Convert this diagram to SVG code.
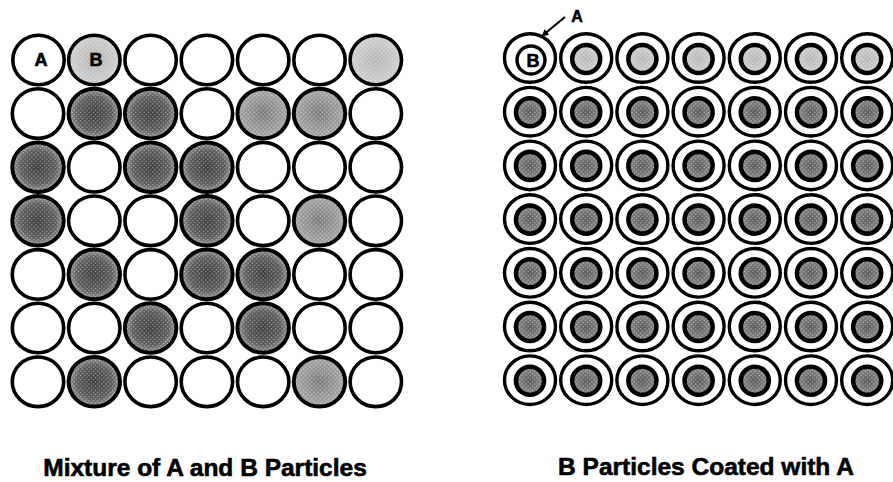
<svg xmlns="http://www.w3.org/2000/svg" width="893" height="482" viewBox="0 0 893 482">
<style>
.o{fill:#fff;stroke:#000;stroke-width:3.6}
.s{stroke:#000;stroke-width:4}
.lt{fill:url(#gL)}
.md{fill:url(#gM)}
.dk{fill:url(#gD)}
.tx{fill:url(#dots);stroke:none}
.ring{fill:#fff;stroke:#000;stroke-width:3.4}
.core1{fill:url(#gL);stroke:#000;stroke-width:4.6}
.core2{fill:url(#gC);stroke:#000;stroke-width:4.6}
.lbl{font-family:"Liberation Sans",Arial,sans-serif;font-weight:bold;fill:#000;stroke:#000;stroke-width:0.6}
.cap{font-size:24.5px;text-anchor:middle}
.let{font-size:18px;text-anchor:middle}
</style>
<defs>
<radialGradient id="gL"><stop offset="0" stop-color="#b4b4b4"/><stop offset="1" stop-color="#cfcfcf"/></radialGradient>
<radialGradient id="gM"><stop offset="0" stop-color="#7a7a7a"/><stop offset="1" stop-color="#a6a6a6"/></radialGradient>
<radialGradient id="gD"><stop offset="0" stop-color="#3c3c3c"/><stop offset="0.7" stop-color="#5c5c5c"/><stop offset="1" stop-color="#9a9a9a"/></radialGradient>
<radialGradient id="gC"><stop offset="0" stop-color="#555"/><stop offset="1" stop-color="#8a8a8a"/></radialGradient>
<pattern id="dots" width="3" height="3" patternUnits="userSpaceOnUse" patternTransform="rotate(45)"><circle cx="1.5" cy="1.5" r="0.7" fill="#fff" fill-opacity="0.55"/></pattern>
<marker id="ah" viewBox="0 0 10 10" refX="9" refY="5" markerWidth="9" markerHeight="7" markerUnits="userSpaceOnUse" orient="auto"><path d="M0,0 L10,5 L0,10 z" fill="#000"/></marker>
</defs>

<g id="mixture">
<!-- row 1 -->
<g id="m-1-1"><ellipse class="o" cx="38.5" cy="60" rx="25.7" ry="24.8"/><text class="lbl let" x="41" y="66">A</text></g>
<g id="m-1-2"><ellipse class="o lt" cx="94.3" cy="60" rx="25.7" ry="24.8"/><ellipse class="tx" cx="94.3" cy="60" rx="24" ry="23"/><text class="lbl let" x="96" y="66">B</text></g>
<g id="m-1-3"><ellipse class="o" cx="150.6" cy="60" rx="25.7" ry="24.8"/></g>
<g id="m-1-4"><ellipse class="o" cx="206.9" cy="60" rx="25.7" ry="24.8"/></g>
<g id="m-1-5"><ellipse class="o" cx="263.2" cy="60" rx="25.7" ry="24.8"/></g>
<g id="m-1-6"><ellipse class="o" cx="319.5" cy="60" rx="25.7" ry="24.8"/></g>
<g id="m-1-7"><ellipse class="o lt" cx="375.8" cy="60" rx="25.7" ry="24.8"/><ellipse class="tx" cx="375.8" cy="60" rx="24" ry="23"/></g>
<!-- row 2 -->
<g id="m-2-1"><ellipse class="o" cx="38" cy="113.6" rx="25.7" ry="24.8"/></g>
<g id="m-2-2"><ellipse class="o s dk" cx="94.3" cy="113.6" rx="25.7" ry="24.8"/><ellipse class="tx" cx="94.3" cy="113.6" rx="24" ry="23"/></g>
<g id="m-2-3"><ellipse class="o s dk" cx="150.6" cy="113.6" rx="25.7" ry="24.8"/><ellipse class="tx" cx="150.6" cy="113.6" rx="24" ry="23"/></g>
<g id="m-2-4"><ellipse class="o" cx="206.9" cy="113.6" rx="25.7" ry="24.8"/></g>
<g id="m-2-5"><ellipse class="o s md" cx="263.2" cy="113.6" rx="25.7" ry="24.8"/><ellipse class="tx" cx="263.2" cy="113.6" rx="24" ry="23"/></g>
<g id="m-2-6"><ellipse class="o s md" cx="319.5" cy="113.6" rx="25.7" ry="24.8"/><ellipse class="tx" cx="319.5" cy="113.6" rx="24" ry="23"/></g>
<g id="m-2-7"><ellipse class="o" cx="375.8" cy="113.6" rx="25.7" ry="24.8"/></g>
<!-- row 3 -->
<g id="m-3-1"><ellipse class="o s dk" cx="38" cy="167.2" rx="25.7" ry="24.8"/><ellipse class="tx" cx="38" cy="167.2" rx="24" ry="23"/></g>
<g id="m-3-2"><ellipse class="o" cx="94.3" cy="167.2" rx="25.7" ry="24.8"/></g>
<g id="m-3-3"><ellipse class="o s dk" cx="150.6" cy="167.2" rx="25.7" ry="24.8"/><ellipse class="tx" cx="150.6" cy="167.2" rx="24" ry="23"/></g>
<g id="m-3-4"><ellipse class="o s dk" cx="206.9" cy="167.2" rx="25.7" ry="24.8"/><ellipse class="tx" cx="206.9" cy="167.2" rx="24" ry="23"/></g>
<g id="m-3-5"><ellipse class="o" cx="263.2" cy="167.2" rx="25.7" ry="24.8"/></g>
<g id="m-3-6"><ellipse class="o" cx="319.5" cy="167.2" rx="25.7" ry="24.8"/></g>
<g id="m-3-7"><ellipse class="o" cx="375.8" cy="167.2" rx="25.7" ry="24.8"/></g>
<!-- row 4 -->
<g id="m-4-1"><ellipse class="o s dk" cx="38" cy="220.8" rx="25.7" ry="24.8"/><ellipse class="tx" cx="38" cy="220.8" rx="24" ry="23"/></g>
<g id="m-4-2"><ellipse class="o" cx="94.3" cy="220.8" rx="25.7" ry="24.8"/></g>
<g id="m-4-3"><ellipse class="o" cx="150.6" cy="220.8" rx="25.7" ry="24.8"/></g>
<g id="m-4-4"><ellipse class="o s dk" cx="206.9" cy="220.8" rx="25.7" ry="24.8"/><ellipse class="tx" cx="206.9" cy="220.8" rx="24" ry="23"/></g>
<g id="m-4-5"><ellipse class="o" cx="263.2" cy="220.8" rx="25.7" ry="24.8"/></g>
<g id="m-4-6"><ellipse class="o s md" cx="319.5" cy="220.8" rx="25.7" ry="24.8"/><ellipse class="tx" cx="319.5" cy="220.8" rx="24" ry="23"/></g>
<g id="m-4-7"><ellipse class="o" cx="375.8" cy="220.8" rx="25.7" ry="24.8"/></g>
<!-- row 5 -->
<g id="m-5-1"><ellipse class="o" cx="38" cy="274.4" rx="25.7" ry="24.8"/></g>
<g id="m-5-2"><ellipse class="o s dk" cx="94.3" cy="274.4" rx="25.7" ry="24.8"/><ellipse class="tx" cx="94.3" cy="274.4" rx="24" ry="23"/></g>
<g id="m-5-3"><ellipse class="o" cx="150.6" cy="274.4" rx="25.7" ry="24.8"/></g>
<g id="m-5-4"><ellipse class="o s dk" cx="206.9" cy="274.4" rx="25.7" ry="24.8"/><ellipse class="tx" cx="206.9" cy="274.4" rx="24" ry="23"/></g>
<g id="m-5-5"><ellipse class="o s dk" cx="263.2" cy="274.4" rx="25.7" ry="24.8"/><ellipse class="tx" cx="263.2" cy="274.4" rx="24" ry="23"/></g>
<g id="m-5-6"><ellipse class="o" cx="319.5" cy="274.4" rx="25.7" ry="24.8"/></g>
<g id="m-5-7"><ellipse class="o" cx="375.8" cy="274.4" rx="25.7" ry="24.8"/></g>
<!-- row 6 -->
<g id="m-6-1"><ellipse class="o" cx="38" cy="328" rx="25.7" ry="24.8"/></g>
<g id="m-6-2"><ellipse class="o" cx="94.3" cy="328" rx="25.7" ry="24.8"/></g>
<g id="m-6-3"><ellipse class="o s dk" cx="150.6" cy="328" rx="25.7" ry="24.8"/><ellipse class="tx" cx="150.6" cy="328" rx="24" ry="23"/></g>
<g id="m-6-4"><ellipse class="o" cx="206.9" cy="328" rx="25.7" ry="24.8"/></g>
<g id="m-6-5"><ellipse class="o s dk" cx="263.2" cy="328" rx="25.7" ry="24.8"/><ellipse class="tx" cx="263.2" cy="328" rx="24" ry="23"/></g>
<g id="m-6-6"><ellipse class="o" cx="319.5" cy="328" rx="25.7" ry="24.8"/></g>
<g id="m-6-7"><ellipse class="o" cx="375.8" cy="328" rx="25.7" ry="24.8"/></g>
<!-- row 7 -->
<g id="m-7-1"><ellipse class="o" cx="38" cy="381.8" rx="25.7" ry="24.8"/></g>
<g id="m-7-2"><ellipse class="o s dk" cx="94.3" cy="381.8" rx="25.7" ry="24.8"/><ellipse class="tx" cx="94.3" cy="381.8" rx="24" ry="23"/></g>
<g id="m-7-3"><ellipse class="o" cx="150.6" cy="381.8" rx="25.7" ry="24.8"/></g>
<g id="m-7-4"><ellipse class="o" cx="206.9" cy="381.8" rx="25.7" ry="24.8"/></g>
<g id="m-7-5"><ellipse class="o" cx="263.2" cy="381.8" rx="25.7" ry="24.8"/></g>
<g id="m-7-6"><ellipse class="o s md" cx="319.5" cy="381.8" rx="25.7" ry="24.8"/><ellipse class="tx" cx="319.5" cy="381.8" rx="24" ry="23"/></g>
<g id="m-7-7"><ellipse class="o" cx="375.8" cy="381.8" rx="25.7" ry="24.8"/></g>
</g>

<g id="coated">
<!-- row 1 -->
<g id="c-1-1"><ellipse class="ring" cx="530" cy="58" rx="25.5" ry="24.3"/><circle cx="531" cy="60" r="14" fill="#fff" stroke="#000" stroke-width="3.4"/><text class="lbl let" x="533" y="67">B</text></g>
<g id="c-1-2"><ellipse class="ring" cx="586.2" cy="58" rx="25.5" ry="24.3"/><circle class="core1" cx="586.2" cy="59" r="14"/><circle class="tx" cx="586.2" cy="59" r="12"/></g>
<g id="c-1-3"><ellipse class="ring" cx="642.4" cy="58" rx="25.5" ry="24.3"/><circle class="core1" cx="642.4" cy="59" r="14"/><circle class="tx" cx="642.4" cy="59" r="12"/></g>
<g id="c-1-4"><ellipse class="ring" cx="698.6" cy="58" rx="25.5" ry="24.3"/><circle class="core1" cx="698.6" cy="59" r="14"/><circle class="tx" cx="698.6" cy="59" r="12"/></g>
<g id="c-1-5"><ellipse class="ring" cx="754.8" cy="58" rx="25.5" ry="24.3"/><circle class="core1" cx="754.8" cy="59" r="14"/><circle class="tx" cx="754.8" cy="59" r="12"/></g>
<g id="c-1-6"><ellipse class="ring" cx="811" cy="58" rx="25.5" ry="24.3"/><circle class="core1" cx="811" cy="59" r="14"/><circle class="tx" cx="811" cy="59" r="12"/></g>
<g id="c-1-7"><ellipse class="ring" cx="867.2" cy="58" rx="25.5" ry="24.3"/><circle class="core1" cx="867.2" cy="59" r="14"/><circle class="tx" cx="867.2" cy="59" r="12"/></g>
<!-- rows 2-7 -->
<g id="c-2-1"><ellipse class="ring" cx="530" cy="111.7" rx="25.5" ry="24.3"/><circle class="core2" cx="530" cy="112.2" r="14"/><circle class="tx" cx="530" cy="112.2" r="12"/></g>
<g id="c-2-2"><ellipse class="ring" cx="586.2" cy="111.7" rx="25.5" ry="24.3"/><circle class="core2" cx="586.2" cy="112.2" r="14"/><circle class="tx" cx="586.2" cy="112.2" r="12"/></g>
<g id="c-2-3"><ellipse class="ring" cx="642.4" cy="111.7" rx="25.5" ry="24.3"/><circle class="core2" cx="642.4" cy="112.2" r="14"/><circle class="tx" cx="642.4" cy="112.2" r="12"/></g>
<g id="c-2-4"><ellipse class="ring" cx="698.6" cy="111.7" rx="25.5" ry="24.3"/><circle class="core2" cx="698.6" cy="112.2" r="14"/><circle class="tx" cx="698.6" cy="112.2" r="12"/></g>
<g id="c-2-5"><ellipse class="ring" cx="754.8" cy="111.7" rx="25.5" ry="24.3"/><circle class="core2" cx="754.8" cy="112.2" r="14"/><circle class="tx" cx="754.8" cy="112.2" r="12"/></g>
<g id="c-2-6"><ellipse class="ring" cx="811" cy="111.7" rx="25.5" ry="24.3"/><circle class="core2" cx="811" cy="112.2" r="14"/><circle class="tx" cx="811" cy="112.2" r="12"/></g>
<g id="c-2-7"><ellipse class="ring" cx="867.2" cy="111.7" rx="25.5" ry="24.3"/><circle class="core2" cx="867.2" cy="112.2" r="14"/><circle class="tx" cx="867.2" cy="112.2" r="12"/></g>
<g id="c-3-1"><ellipse class="ring" cx="530" cy="165.4" rx="25.5" ry="24.3"/><circle class="core2" cx="530" cy="165.9" r="14"/><circle class="tx" cx="530" cy="165.9" r="12"/></g>
<g id="c-3-2"><ellipse class="ring" cx="586.2" cy="165.4" rx="25.5" ry="24.3"/><circle class="core2" cx="586.2" cy="165.9" r="14"/><circle class="tx" cx="586.2" cy="165.9" r="12"/></g>
<g id="c-3-3"><ellipse class="ring" cx="642.4" cy="165.4" rx="25.5" ry="24.3"/><circle class="core2" cx="642.4" cy="165.9" r="14"/><circle class="tx" cx="642.4" cy="165.9" r="12"/></g>
<g id="c-3-4"><ellipse class="ring" cx="698.6" cy="165.4" rx="25.5" ry="24.3"/><circle class="core2" cx="698.6" cy="165.9" r="14"/><circle class="tx" cx="698.6" cy="165.9" r="12"/></g>
<g id="c-3-5"><ellipse class="ring" cx="754.8" cy="165.4" rx="25.5" ry="24.3"/><circle class="core2" cx="754.8" cy="165.9" r="14"/><circle class="tx" cx="754.8" cy="165.9" r="12"/></g>
<g id="c-3-6"><ellipse class="ring" cx="811" cy="165.4" rx="25.5" ry="24.3"/><circle class="core2" cx="811" cy="165.9" r="14"/><circle class="tx" cx="811" cy="165.9" r="12"/></g>
<g id="c-3-7"><ellipse class="ring" cx="867.2" cy="165.4" rx="25.5" ry="24.3"/><circle class="core2" cx="867.2" cy="165.9" r="14"/><circle class="tx" cx="867.2" cy="165.9" r="12"/></g>
<g id="c-4-1"><ellipse class="ring" cx="530" cy="219.1" rx="25.5" ry="24.3"/><circle class="core2" cx="530" cy="219.6" r="14"/><circle class="tx" cx="530" cy="219.6" r="12"/></g>
<g id="c-4-2"><ellipse class="ring" cx="586.2" cy="219.1" rx="25.5" ry="24.3"/><circle class="core2" cx="586.2" cy="219.6" r="14"/><circle class="tx" cx="586.2" cy="219.6" r="12"/></g>
<g id="c-4-3"><ellipse class="ring" cx="642.4" cy="219.1" rx="25.5" ry="24.3"/><circle class="core2" cx="642.4" cy="219.6" r="14"/><circle class="tx" cx="642.4" cy="219.6" r="12"/></g>
<g id="c-4-4"><ellipse class="ring" cx="698.6" cy="219.1" rx="25.5" ry="24.3"/><circle class="core2" cx="698.6" cy="219.6" r="14"/><circle class="tx" cx="698.6" cy="219.6" r="12"/></g>
<g id="c-4-5"><ellipse class="ring" cx="754.8" cy="219.1" rx="25.5" ry="24.3"/><circle class="core2" cx="754.8" cy="219.6" r="14"/><circle class="tx" cx="754.8" cy="219.6" r="12"/></g>
<g id="c-4-6"><ellipse class="ring" cx="811" cy="219.1" rx="25.5" ry="24.3"/><circle class="core2" cx="811" cy="219.6" r="14"/><circle class="tx" cx="811" cy="219.6" r="12"/></g>
<g id="c-4-7"><ellipse class="ring" cx="867.2" cy="219.1" rx="25.5" ry="24.3"/><circle class="core2" cx="867.2" cy="219.6" r="14"/><circle class="tx" cx="867.2" cy="219.6" r="12"/></g>
<g id="c-5-1"><ellipse class="ring" cx="530" cy="272.8" rx="25.5" ry="24.3"/><circle class="core2" cx="530" cy="273.3" r="14"/><circle class="tx" cx="530" cy="273.3" r="12"/></g>
<g id="c-5-2"><ellipse class="ring" cx="586.2" cy="272.8" rx="25.5" ry="24.3"/><circle class="core2" cx="586.2" cy="273.3" r="14"/><circle class="tx" cx="586.2" cy="273.3" r="12"/></g>
<g id="c-5-3"><ellipse class="ring" cx="642.4" cy="272.8" rx="25.5" ry="24.3"/><circle class="core2" cx="642.4" cy="273.3" r="14"/><circle class="tx" cx="642.4" cy="273.3" r="12"/></g>
<g id="c-5-4"><ellipse class="ring" cx="698.6" cy="272.8" rx="25.5" ry="24.3"/><circle class="core2" cx="698.6" cy="273.3" r="14"/><circle class="tx" cx="698.6" cy="273.3" r="12"/></g>
<g id="c-5-5"><ellipse class="ring" cx="754.8" cy="272.8" rx="25.5" ry="24.3"/><circle class="core2" cx="754.8" cy="273.3" r="14"/><circle class="tx" cx="754.8" cy="273.3" r="12"/></g>
<g id="c-5-6"><ellipse class="ring" cx="811" cy="272.8" rx="25.5" ry="24.3"/><circle class="core2" cx="811" cy="273.3" r="14"/><circle class="tx" cx="811" cy="273.3" r="12"/></g>
<g id="c-5-7"><ellipse class="ring" cx="867.2" cy="272.8" rx="25.5" ry="24.3"/><circle class="core2" cx="867.2" cy="273.3" r="14"/><circle class="tx" cx="867.2" cy="273.3" r="12"/></g>
<g id="c-6-1"><ellipse class="ring" cx="530" cy="326.5" rx="25.5" ry="24.3"/><circle class="core2" cx="530" cy="327" r="14"/><circle class="tx" cx="530" cy="327" r="12"/></g>
<g id="c-6-2"><ellipse class="ring" cx="586.2" cy="326.5" rx="25.5" ry="24.3"/><circle class="core2" cx="586.2" cy="327" r="14"/><circle class="tx" cx="586.2" cy="327" r="12"/></g>
<g id="c-6-3"><ellipse class="ring" cx="642.4" cy="326.5" rx="25.5" ry="24.3"/><circle class="core2" cx="642.4" cy="327" r="14"/><circle class="tx" cx="642.4" cy="327" r="12"/></g>
<g id="c-6-4"><ellipse class="ring" cx="698.6" cy="326.5" rx="25.5" ry="24.3"/><circle class="core2" cx="698.6" cy="327" r="14"/><circle class="tx" cx="698.6" cy="327" r="12"/></g>
<g id="c-6-5"><ellipse class="ring" cx="754.8" cy="326.5" rx="25.5" ry="24.3"/><circle class="core2" cx="754.8" cy="327" r="14"/><circle class="tx" cx="754.8" cy="327" r="12"/></g>
<g id="c-6-6"><ellipse class="ring" cx="811" cy="326.5" rx="25.5" ry="24.3"/><circle class="core2" cx="811" cy="327" r="14"/><circle class="tx" cx="811" cy="327" r="12"/></g>
<g id="c-6-7"><ellipse class="ring" cx="867.2" cy="326.5" rx="25.5" ry="24.3"/><circle class="core2" cx="867.2" cy="327" r="14"/><circle class="tx" cx="867.2" cy="327" r="12"/></g>
<g id="c-7-1"><ellipse class="ring" cx="530" cy="380.2" rx="25.5" ry="24.3"/><circle class="core2" cx="530" cy="380.7" r="14"/><circle class="tx" cx="530" cy="380.7" r="12"/></g>
<g id="c-7-2"><ellipse class="ring" cx="586.2" cy="380.2" rx="25.5" ry="24.3"/><circle class="core2" cx="586.2" cy="380.7" r="14"/><circle class="tx" cx="586.2" cy="380.7" r="12"/></g>
<g id="c-7-3"><ellipse class="ring" cx="642.4" cy="380.2" rx="25.5" ry="24.3"/><circle class="core2" cx="642.4" cy="380.7" r="14"/><circle class="tx" cx="642.4" cy="380.7" r="12"/></g>
<g id="c-7-4"><ellipse class="ring" cx="698.6" cy="380.2" rx="25.5" ry="24.3"/><circle class="core2" cx="698.6" cy="380.7" r="14"/><circle class="tx" cx="698.6" cy="380.7" r="12"/></g>
<g id="c-7-5"><ellipse class="ring" cx="754.8" cy="380.2" rx="25.5" ry="24.3"/><circle class="core2" cx="754.8" cy="380.7" r="14"/><circle class="tx" cx="754.8" cy="380.7" r="12"/></g>
<g id="c-7-6"><ellipse class="ring" cx="811" cy="380.2" rx="25.5" ry="24.3"/><circle class="core2" cx="811" cy="380.7" r="14"/><circle class="tx" cx="811" cy="380.7" r="12"/></g>
<g id="c-7-7"><ellipse class="ring" cx="867.2" cy="380.2" rx="25.5" ry="24.3"/><circle class="core2" cx="867.2" cy="380.7" r="14"/><circle class="tx" cx="867.2" cy="380.7" r="12"/></g>
</g>

<g id="label-A"><text class="lbl" x="577" y="22" font-size="16" text-anchor="middle">A</text></g>

<g id="connectors">
<line x1="565" y1="17" x2="542" y2="36" stroke="#000" stroke-width="2.2" marker-end="url(#ah)"/>
</g>

<g id="captions">
<text class="lbl cap" x="205" y="476">Mixture of A and B Particles</text>
<text class="lbl cap" x="706" y="475">B Particles Coated with A</text>
</g>
</svg>
